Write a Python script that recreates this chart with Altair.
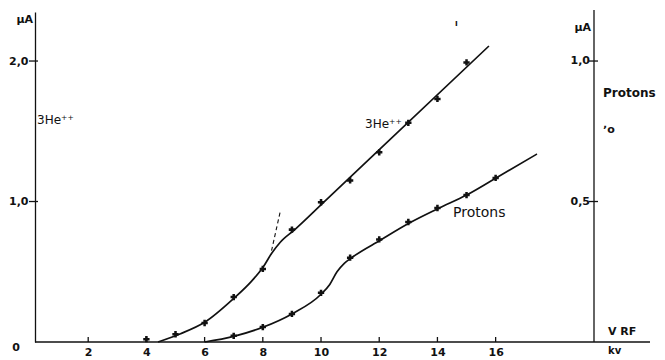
import altair as alt
import pandas as pd

# ---- data ----
# 3He++ current (left axis, µA) measured points
he_kv = [4, 5, 6, 7, 8, 9, 10, 11, 12, 13, 14, 15]
he_ua = [0.02, 0.055, 0.135, 0.32, 0.52, 0.80, 0.995, 1.15, 1.35, 1.56, 1.73, 1.99]

# Proton current (right axis, µA) measured points
pr_kv = [7, 8, 9, 10, 11, 12, 13, 14, 15, 16]
pr_ua = [0.022, 0.053, 0.10, 0.175, 0.30, 0.365, 0.427, 0.477, 0.523, 0.584]

# hand-drawn curves (traced)
he_curve_kv = [4.4, 5.15, 6.0, 7.0, 7.6, 8.0, 8.3, 8.6, 9.1, 10.07, 12.03, 15.77]
he_curve_ua = [0.0, 0.057, 0.14, 0.31, 0.43, 0.53, 0.63, 0.71, 0.80, 0.99, 1.374, 2.107]

pr_curve_kv = [6.0, 7.0, 8.0, 9.0, 10.0, 10.3, 10.55, 10.8, 11.05, 12.05, 13.05, 14.05, 15.0, 16.0, 17.42]
pr_curve_ua = [0.0, 0.02, 0.0525, 0.10, 0.17, 0.205, 0.25, 0.28, 0.30, 0.363, 0.424, 0.476, 0.523, 0.583, 0.669]

# dashed extrapolation of the 3He++ curve
dash_kv = [8.3, 8.6]
dash_ua = [0.65, 0.93]

# axis ticks
x_ticks = [2, 4, 6, 8, 10, 12, 14, 16]
left_ticks = [1.0, 2.0]
right_ticks = [0.5, 1.0]
right_tick_labels = ["0,5", "1,0"]

# ---- chart ----
FONT = "DejaVu Sans"
INK = "#111111"
W, H = 559, 330

xscale = alt.Scale(domain=[0.172, 19.38], nice=False, zero=False)
yscale = alt.Scale(domain=[0, 2.349], nice=False, zero=True)
xaxis = alt.Axis(values=x_ticks, title=None, ticks=False, domain=False, grid=False,
                 labelFont=FONT, labelFontWeight="bold", labelFontSize=11,
                 labelColor=INK, labelPadding=4)
yaxis = alt.Axis(values=left_ticks, title=None, ticks=False, domain=True, grid=False,
                 domainColor=INK, domainWidth=1.3, format=".1f",
                 labelExpr="replace(datum.label, '.', ',')",
                 labelFont=FONT, labelFontWeight="bold", labelFontSize=11,
                 labelColor=INK, labelPadding=7)


def X(f):
    return alt.X(f, type="quantitative", scale=xscale, axis=xaxis)


def Y(f):
    return alt.Y(f, type="quantitative", scale=yscale, axis=yaxis)


one = alt.Data(values=[{"a": 1}])

he_pts = pd.DataFrame({"kv": he_kv, "ua": he_ua})
pr_pts = pd.DataFrame({"kv": pr_kv, "ua": pr_ua})
he_cur = pd.DataFrame({"kv": he_curve_kv, "ua": he_curve_ua})
pr_cur = pd.DataFrame({"kv": pr_curve_kv, "ua": pr_curve_ua})
dash = pd.DataFrame({"kv": dash_kv, "ua": dash_ua})

he_line = alt.Chart(he_cur).mark_line(color=INK, strokeWidth=1.7, interpolate="monotone").encode(
    x=X("kv"), y=Y("ua"))
pr_line = alt.Chart(pr_cur).transform_calculate(left="datum.ua * 2").mark_line(
    color=INK, strokeWidth=1.7, interpolate="monotone").encode(x=X("kv"), y=Y("left"))
dash_line = alt.Chart(dash).mark_line(color=INK, strokeWidth=1.1, strokeDash=[4, 3]).encode(
    x=X("kv"), y=Y("ua"))
he_mark = alt.Chart(he_pts).mark_point(shape="cross", filled=True, size=40, color=INK, opacity=1).encode(
    x=X("kv"), y=Y("ua"))
pr_mark = alt.Chart(pr_pts).transform_calculate(left="datum.ua * 2").mark_point(
    shape="cross", filled=True, size=40, color=INK, opacity=1).encode(x=X("kv"), y=Y("left"))

# axis decorations
x_line = alt.Chart(one).mark_rule(color=INK, strokeWidth=1.3).encode(
    x=alt.value(0), x2=alt.value(615), y=alt.value(H))
x_tick = alt.Chart(pd.DataFrame({"t": x_ticks})).mark_rule(color=INK, strokeWidth=1.3).encode(
    x=X("t"), y=alt.value(H - 5), y2=alt.value(H))
l_tick = alt.Chart(pd.DataFrame({"t": left_ticks})).mark_rule(color=INK, strokeWidth=1.3).encode(
    y=Y("t"), x=alt.value(-6), x2=alt.value(3))
r_line = alt.Chart(one).mark_rule(color=INK, strokeWidth=1.3).encode(
    x=alt.value(W), y=alt.value(-2), y2=alt.value(H))
r_df = pd.DataFrame({"t": right_ticks, "lab": right_tick_labels})
r_tick = alt.Chart(r_df).transform_calculate(left="datum.t * 2").mark_rule(
    color=INK, strokeWidth=1.3).encode(y=Y("left"), x=alt.value(W - 5), x2=alt.value(W + 4))
r_lab = alt.Chart(r_df).transform_calculate(left="datum.t * 2").mark_text(
    align="right", baseline="middle", font=FONT, fontWeight="bold", fontSize=11, color=INK).encode(
    y=Y("left"), x=alt.value(W - 4), text="lab:N")


def label(text, x, y, size=11, align="left", weight="bold"):
    return alt.Chart(one).mark_text(text=text, align=align, baseline="middle", font=FONT,
                                    fontSize=size, fontWeight=weight, color=INK).encode(
        x=alt.value(x), y=alt.value(y))


texts = [
    label("µA", -2, 8, size=11, align="right"),
    label("0", -19, 336, size=11, align="center"),
    label("3He⁺⁺", 2, 108, size=12, weight="normal"),
    label("3He⁺⁺", 330, 112, size=12, weight="normal"),
    label("Protons", 418, 201, size=14, weight="normal"),
    label("µA", W - 3, 16, size=11, align="right"),
    label("Protons", 568, 81, size=12, weight="bold"),
    label("ʼo", 568, 118, size=11, weight="bold"),
    label("V RF", 573, 320, size=11, weight="bold"),
    label("kv", 573, 339, size=10, weight="bold"),
    label("ı", 420, 12, size=8, weight="bold"),
]

chart = alt.layer(
    he_line, pr_line, dash_line, he_mark, pr_mark,
    x_line, x_tick, l_tick, r_line, r_tick, r_lab, *texts
).properties(
    width=W, height=H,
    autosize=alt.AutoSizeParams(type="none"),
    padding={"left": 35, "top": 12, "right": 71, "bottom": 18},
    background="white",
).configure_view(stroke=None)

chart.save("out.html", embed_options={"renderer": "svg", "actions": False})
